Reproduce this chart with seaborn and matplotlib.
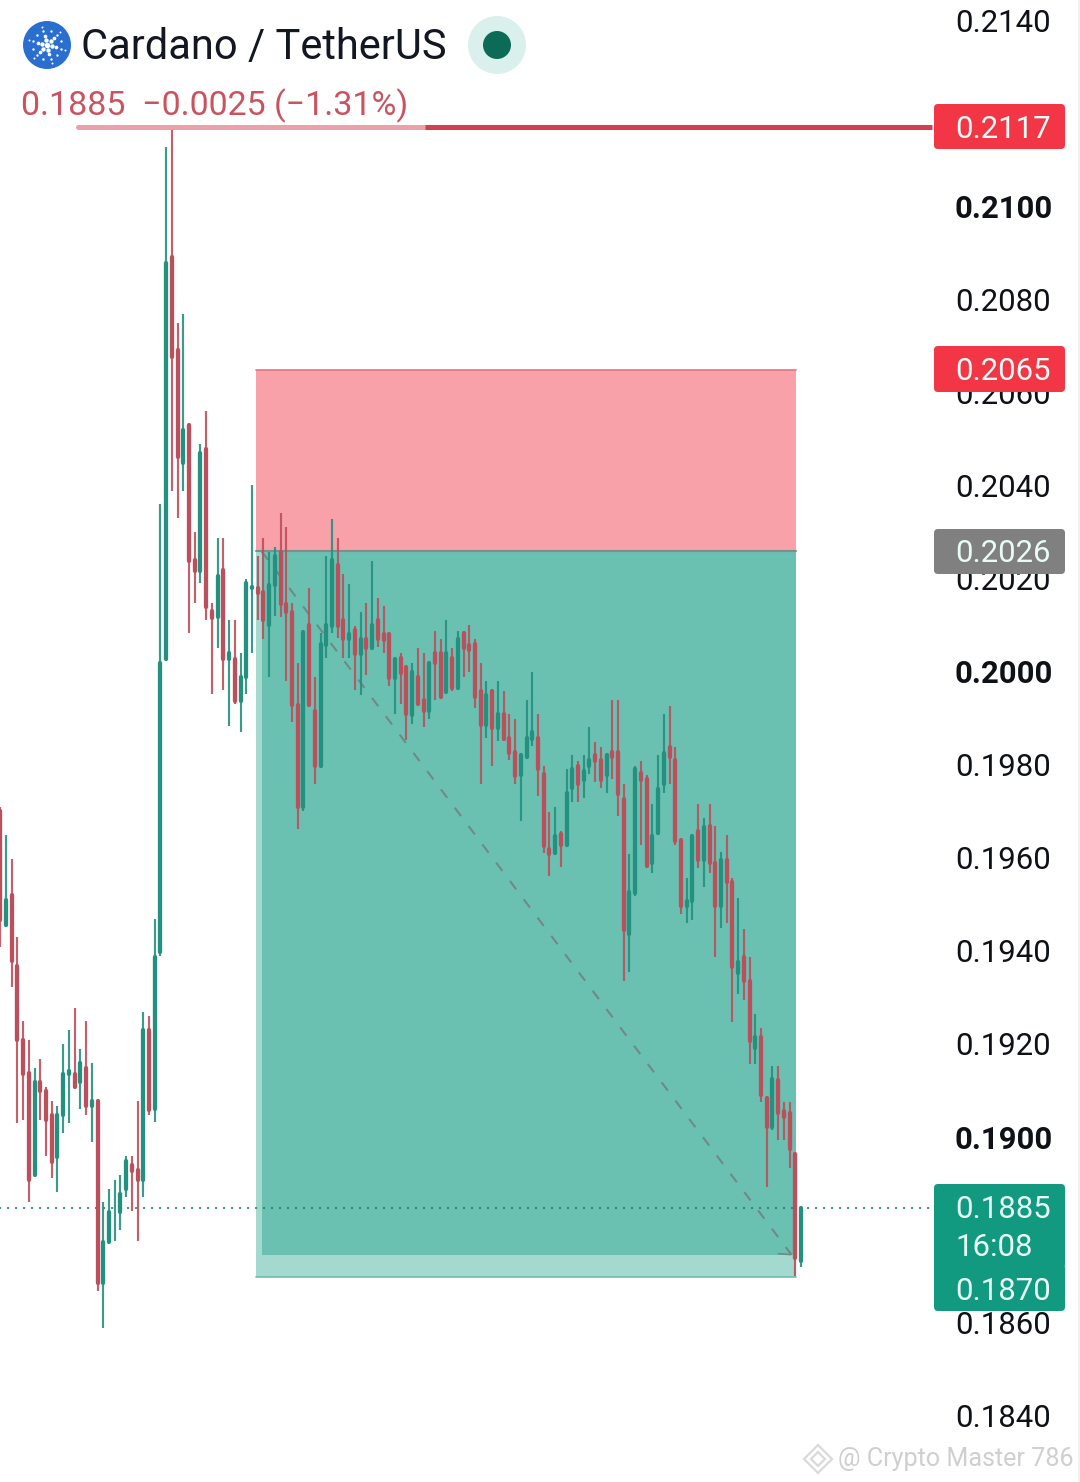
import numpy as np
import pandas as pd
import matplotlib
matplotlib.use("Agg")
import matplotlib.pyplot as plt
from matplotlib.patches import Circle, FancyBboxPatch, Rectangle, RegularPolygon
from matplotlib.transforms import ScaledTranslation
import seaborn as sns

# candles, prices in 1e-5 USDT
highs = [19710,19650,19600,19431,19250,19211,19151,19170,19110,19080,
         19069,19201,19231,19280,19190,19250,19160,19080,18861,18891,
         18910,18921,18960,18960,19080,19271,19261,19471,20363,21130,
         21167,20752,20771,20531,20301,20492,20561,20150,20290,20290,
         20112,20112,20041,20200,20402,20251,20290,20258,20269,20342,
         20312,20150,20021,20090,20181,19991,20084,20251,20329,20290,
         20211,20191,20099,20131,20150,20239,20161,20142,20082,20030,
         20041,20011,20021,20052,20041,20021,20090,20071,20112,20052,
         20090,20090,20101,20071,20021,19981,19961,19981,19961,19910,
         19901,19828,19940,20000,19910,19798,19701,19710,19660,19792,
         19822,19809,19822,19882,19850,19839,19828,19940,19940,19761,
         19609,19798,19809,19779,19718,19822,19910,19929,19839,19639,
         19559,19648,19718,19688,19718,19669,19615,19650,19559,19516,
         19448,19388,19267,19237,19087,19155,19155,19076,19076,18966,
         18850]
body_tops = [19703,19510,19521,19370,19211,19140,19119,19119,19100,19050,
             19050,19138,19143,19138,19160,19151,19080,19080,18777,18840,
             18833,18880,18951,18941,18930,19231,19231,19388,20021,20881,
             20892,20692,20520,20531,20241,20471,20481,20133,20208,20221,
             20041,20030,19991,20193,20183,20181,20172,20189,20251,20258,
             20148,20131,19931,20088,20101,19918,20062,20101,20241,20230,
             20112,20082,20092,20071,20071,20101,20112,20082,20082,20030,
             20032,20011,20000,19991,19940,20021,20041,20041,20041,20032,
             20071,20084,20060,20062,19961,19951,19961,19910,19910,19860,
             19830,19822,19860,19871,19860,19781,19620,19648,19652,19740,
             19792,19798,19789,19811,19822,19811,19822,19830,19830,19729,
             19529,19792,19785,19770,19648,19749,19828,19839,19811,19639,
             19508,19648,19660,19667,19671,19590,19598,19598,19549,19377,
             19388,19338,19216,19216,19085,19127,19125,19057,19054,18966,
             18850]
body_bots = [19469,19458,19381,19211,19138,18910,18919,19100,19039,18949,
             18958,19050,19138,19110,19119,19069,19069,18689,18689,18777,
             18831,18840,18891,18928,18910,18910,19059,19061,19400,20030,
             20679,20462,20451,20239,20219,20219,20140,20118,20120,20030,
             20028,19938,19938,19991,20181,20170,20112,20101,20189,20148,
             20131,19931,19710,19710,19931,19800,19800,20058,20099,20099,
             20071,20071,20039,20039,20052,20052,20071,20069,19989,19989,
             19998,19910,19908,19933,19918,19918,20021,19948,19959,19966,
             19966,20052,20049,19948,19888,19888,19880,19880,19856,19828,
             19777,19779,19819,19858,19792,19628,19609,19611,19630,19630,
             19751,19761,19768,19798,19809,19768,19779,19819,19738,19446,
             19439,19527,19768,19585,19590,19656,19761,19819,19637,19499,
             19499,19508,19598,19598,19590,19499,19499,19549,19366,19355,
             19338,19207,19194,19093,19024,19024,19054,19044,18977,18741,
             18736]
lows = [19411,19458,19323,19031,19039,18863,18919,19039,18960,18913,
        18883,19011,19031,19110,19061,19050,18990,18670,18592,18777,
        18779,18801,18872,18842,18779,18872,19050,19033,19390,20030,
        20391,20331,20391,20084,20150,20193,20112,19953,20052,19963,
        19884,19933,19871,19953,20041,20112,20071,19991,20122,20120,
        19981,19893,19663,19703,19931,19761,19794,20032,20084,20073,
        20032,20032,19963,19951,19994,20052,20054,20041,19970,19910,
        19933,19854,19890,19933,19882,19901,19940,19948,19959,19961,
        19963,19991,20000,19923,19761,19860,19800,19852,19852,19811,
        19761,19680,19819,19841,19734,19611,19562,19611,19581,19630,
        19721,19721,19731,19781,19764,19751,19740,19770,19691,19338,
        19357,19519,19630,19579,19568,19650,19740,19761,19630,19480,
        19461,19469,19579,19540,19568,19388,19450,19461,19248,19308,
        19297,19158,19158,19076,18895,19016,18996,18996,18936,18704,
        18723]
directions = list("rgrrrrgrrr" "gggrgrgrgg" "gggrrgrggg" "rrgrrgrrgr" "grgggrrggr"
                  "rrrgrrgggr" "rgrgrgrrrg" "rrgrrgrrgr" "grrrrgrgrr" "rgggrrrgrg"
                  "grggrrgrrr" "ggrrgggrrr" "ggrgrrgrrg" "rrgrrgrrrr" "g")

tick_prices = [0.2140, 0.2100, 0.2080, 0.2060, 0.2040, 0.2020, 0.2000,
               0.1980, 0.1960, 0.1940, 0.1920, 0.1900, 0.1860, 0.1840]
bold_ticks = ["0.2100", "0.2000", "0.1900"]

day_high = 0.2117
stop_price = 0.2065
entry_price = 0.2026
last_price = 0.1885
target_price = 0.1870
close_price = 0.18749
box_start = 44.7
box_inner = 45.7
box_end = 139.1

RED = "#BC4F5C"
GREEN = "#24907F"

sns.set_theme(style="white")
plt.rcParams["font.family"] = ["Roboto", "DejaVu Sans"]

n = len(highs)
idx = np.arange(n)
candles = pd.DataFrame({"i": idx, "high": np.array(highs) / 1e5, "low": np.array(lows) / 1e5,
                        "top": np.array(body_tops) / 1e5, "bot": np.array(body_bots) / 1e5,
                        "dir": directions})
wicks = candles.melt(id_vars=["i", "dir"], value_vars=["high", "low"], value_name="price")
bodies = candles.melt(id_vars=["i", "dir"], value_vars=["top", "bot"], value_name="price")

fig = plt.figure(figsize=(10.8, 14.82), dpi=100, facecolor="white")
ax = fig.add_axes([0, 0, 1, 1])

# 46533 px per 1.0 of price, 5.72 px per candle
ax.set_ylim(0.1840 - 65 / 46533, 0.2140 + 21 / 46533)
ax.set_xlim(-0.3 / 5.72, 1079.7 / 5.72)

# position tool
ax.add_patch(Rectangle((box_start, entry_price), box_end - box_start, stop_price - entry_price,
                       fc="#F8A1A9", ec="none", zorder=1))
ax.add_patch(Rectangle((box_start, target_price), box_end - box_start, entry_price - target_price,
                       fc="#A4D9CF", ec="none", zorder=1))
ax.add_patch(Rectangle((box_inner, close_price), box_end - box_inner, entry_price - close_price,
                       fc="#6BC1B1", ec="none", zorder=1.1))
ax.plot([box_start, box_end], [stop_price] * 2, color="#E4737E", lw=1.2, zorder=1.2)
ax.plot([box_start, box_end], [entry_price] * 2, color="#7B8F8B", lw=1.5, zorder=1.2)
ax.plot([box_start, box_end], [target_price] * 2, color="#6FBDAF", lw=1.2, zorder=1.2)
ax.plot([box_inner, box_end - 0.8], [entry_price, close_price], color="#6F8A85", lw=1.5,
        dashes=(5, 6), zorder=1.3)
ax.plot([136, 138.2], [close_price + 0.00002, close_price], color="#6F8A85", lw=1.2, zorder=1.3)

# last price dotted line
ax.plot([-1, 162.9], [last_price] * 2, color="#1F8475", lw=1.2, dashes=(1.3, 3.5), zorder=1.4)

# candles
palette = {"r": RED, "g": GREEN}
sns.lineplot(data=wicks, x="i", y="price", hue="dir", units="i", estimator=None, palette=palette,
             linewidth=1.55, legend=False, ax=ax, zorder=2, alpha=0.9, solid_capstyle="butt")
sns.lineplot(data=bodies, x="i", y="price", hue="dir", units="i", estimator=None, palette=palette,
             linewidth=3.1, legend=False, ax=ax, zorder=2.1, solid_capstyle="round")

# day high line
ax.plot([78 / 5.72, 425 / 5.72], [day_high + 0.00002] * 2, color="#ECA1A9", lw=3.6, zorder=3,
        solid_capstyle="round")
ax.plot([425 / 5.72, 932 / 5.72], [day_high + 0.00002] * 2, color="#D2404F", lw=3.6, zorder=3,
        solid_capstyle="butt")

# price scale, labels sit inside the axes
ax.set_axisbelow(True)
ax.yaxis.tick_right()
ax.set_yticks(tick_prices)
ax.set_yticklabels(["%.4f" % p for p in tick_prices])
ax.tick_params(axis="y", length=0, pad=-90, labelsize=22.4, labelcolor="#0E1116")
nudge = ScaledTranslation(0, 1 / 100, fig.dpi_scale_trans)
for lab in ax.get_yticklabels():
    lab.set_ha("left")
    lab.set_transform(lab.get_transform() + nudge)
    if lab.get_text() in bold_ticks:
        lab.set_fontweight("bold")
ax.set_xticks([])
ax.set_xlabel("")
ax.set_ylabel("")
for s in ax.spines.values():
    s.set_visible(False)
ax.set_facecolor("white")

# overlay in pixel coordinates for header, tags, watermark
ov = fig.add_axes([0, 0, 1, 1], facecolor="none")
ov.set_xlim(0, 1080)
ov.set_ylim(1482, 0)
ov.axis("off")


def price_tag(y0, y1, color, lines):
    ov.add_patch(FancyBboxPatch((934, y0), 131, y1 - y0, boxstyle="round,pad=0,rounding_size=4",
                                fc=color, ec="none", zorder=5))
    for yc, txt in lines:
        ov.text(955.5, yc, txt, color="#E9FBF6", fontsize=22.4, va="center", ha="left", zorder=6)


price_tag(104, 149, "#F23645", [(129, "0.2117")])
price_tag(346, 392, "#F23645", [(372, "0.2065")])
price_tag(529, 574, "#808080", [(554, "0.2026")])
price_tag(1184, 1268, "#129A80", [(1210, "0.1885"), (1247, "16:08")])
price_tag(1264, 1311, "#129A80", [(1291, "0.1870")])
ov.add_patch(Rectangle((934, 1255), 20, 20, fc="#129A80", ec="none", zorder=5))

# header
ov.add_patch(Circle((47, 45), 24, fc="#2A6FD0", ec="none"))
for r, k, s in [(0, 1, 16), (5, 6, 10), (9.5, 6, 7), (14, 12, 3), (19, 6, 2)]:
    for a in np.linspace(0, 2 * np.pi, k, endpoint=False):
        ov.scatter(47 + r * np.cos(a + 0.26), 45 + r * np.sin(a + 0.26), s=s, color="white", lw=0)
ov.text(81, 47, "Cardano / TetherUS", color="#131722", fontsize=30, va="center", ha="left")
ov.add_patch(Circle((497, 45), 29, fc="#DAF0EC", ec="none"))
ov.add_patch(Circle((497, 45), 14, fc="#0B6B57", ec="none"))
ov.text(21, 106, "0.1885  \u22120.0025 (\u22121.31%)", color="#C9535F", fontsize=24.5,
        va="center", ha="left")

# watermark
for rad in [14, 7]:
    ov.add_patch(RegularPolygon((818, 1459), 4, radius=rad, fc="none", ec="#DADADA", lw=1.6))
ov.text(838, 1459, "@ Crypto Master 786", color="#CFCFCF", fontsize=18.1, va="center", ha="left")
ov.plot([1079, 1079], [0, 1482], color="#EFEFEF", lw=1.2)

fig.savefig("out.png", dpi=100)
